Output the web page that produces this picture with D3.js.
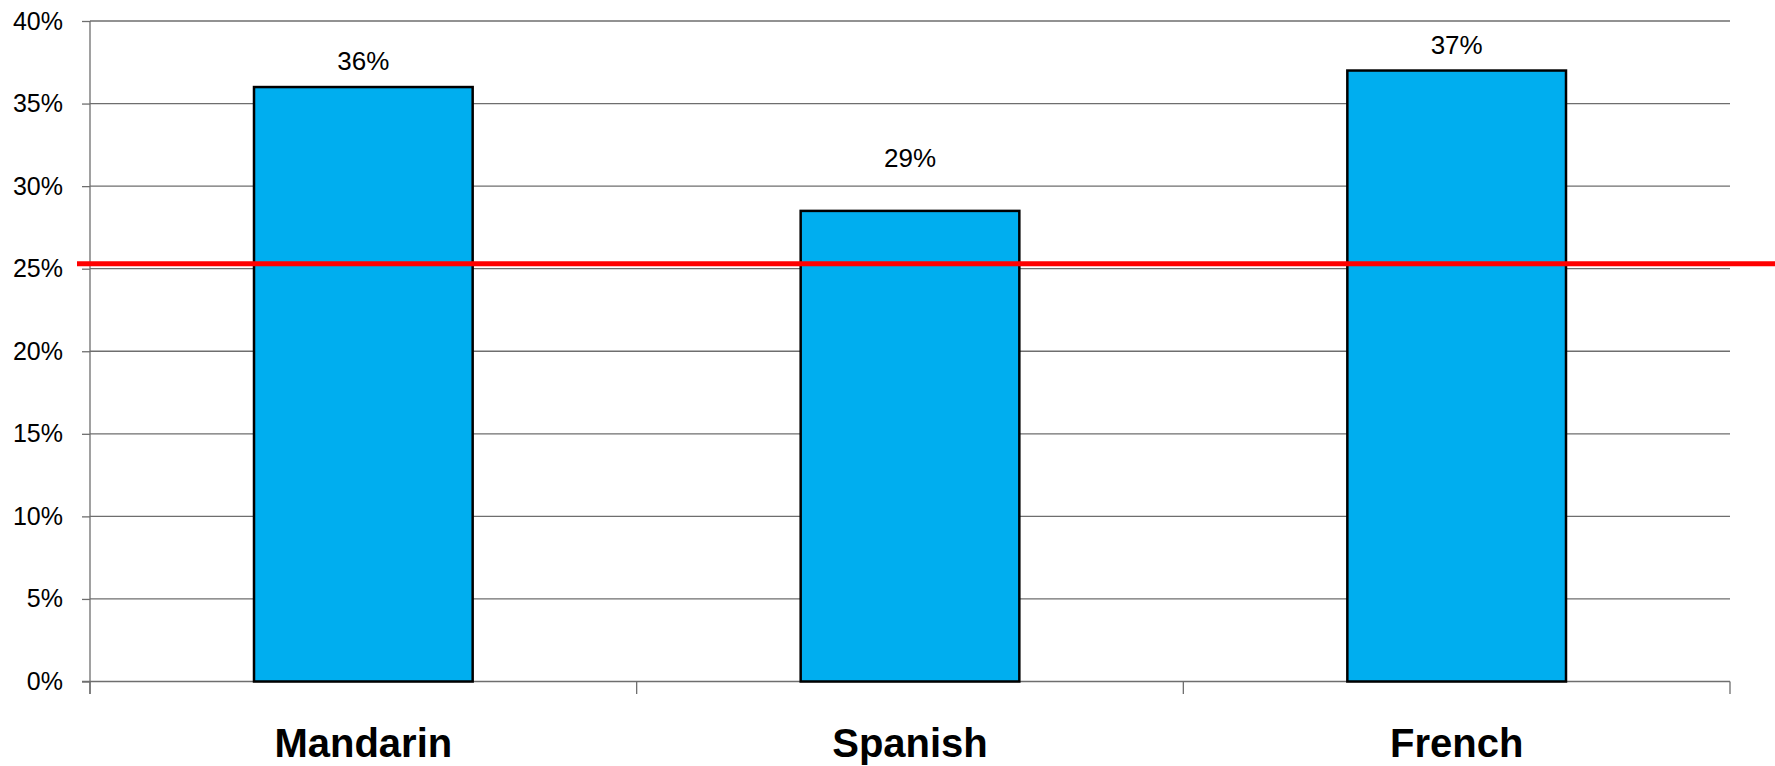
<!DOCTYPE html>
<html><head><meta charset="utf-8">
<script src="https://cdn.jsdelivr.net/npm/d3@7"></script>
<style>body{margin:0;background:#fff;}svg{display:block;}</style>
</head><body>
<svg id="chart" width="1775" height="766"></svg>
<script>
const categories = ["Mandarin", "Spanish", "French"];
const values = [36, 28.5, 37];
const valueLabels = ["36%", "29%", "37%"];
const yTicks = [0, 5, 10, 15, 20, 25, 30, 35, 40];
const referenceValue = 25.3;

const svg = d3.select("#chart");
const mLeft = 90, mRight = 1730, mTop = 21, mBottom = 681.5;
const font = "'Liberation Sans', Arial, sans-serif";
const labelGap = [17, 44, 17];

const x = d3.scaleBand().domain(categories).range([mLeft, mRight]).paddingInner(0).paddingOuter(0);
const y = d3.scaleLinear().domain([0, 40]).range([mBottom, mTop]);
const barW = x.bandwidth() * 0.4;

// gridlines
svg.append("g").selectAll("line").data(yTicks.filter(d => d > 0)).join("line")
  .attr("x1", mLeft).attr("x2", mRight)
  .attr("y1", d => y(d)).attr("y2", d => y(d))
  .attr("stroke", "#6e6e6e").attr("stroke-width", 1.3);

// y axis
const yAxis = d3.axisLeft(y).tickValues(yTicks).tickFormat(d => d + "%").tickSize(8).tickPadding(19);
const gy = svg.append("g").attr("transform", `translate(${mLeft},0)`).call(yAxis);
gy.select(".domain").remove();
gy.selectAll(".tick line").attr("stroke", "#6e6e6e").attr("stroke-width", 1.3);
gy.selectAll(".tick text").attr("font-family", font).attr("font-size", 25).attr("fill", "#000");
svg.append("line").attr("x1", mLeft).attr("x2", mLeft).attr("y1", mTop).attr("y2", mBottom + 12.5)
  .attr("stroke", "#6e6e6e").attr("stroke-width", 1.3);

// x axis
svg.append("line").attr("x1", mLeft - 8).attr("x2", mRight).attr("y1", mBottom).attr("y2", mBottom)
  .attr("stroke", "#6e6e6e").attr("stroke-width", 1.3);
const bounds = categories.map(c => x(c)).concat([mRight]);
svg.append("g").selectAll("line").data(bounds).join("line")
  .attr("x1", d => d).attr("x2", d => d).attr("y1", mBottom).attr("y2", mBottom + 12.5)
  .attr("stroke", "#6e6e6e").attr("stroke-width", 1.3);

// bars
svg.append("g").selectAll("rect").data(categories).join("rect")
  .attr("x", d => x(d) + (x.bandwidth() - barW) / 2)
  .attr("y", (d, i) => y(values[i]))
  .attr("width", barW)
  .attr("height", (d, i) => y(0) - y(values[i]))
  .attr("fill", "#00AEEF").attr("stroke", "#000").attr("stroke-width", 2.5);

// value labels
svg.append("g").selectAll("text").data(categories).join("text")
  .attr("x", d => x(d) + x.bandwidth() / 2)
  .attr("y", (d, i) => y(values[i]) - labelGap[i])
  .attr("text-anchor", "middle").attr("font-family", font).attr("font-size", 26).attr("fill", "#000")
  .text((d, i) => valueLabels[i]);

// category labels
svg.append("g").selectAll("text").data(categories).join("text")
  .attr("x", d => x(d) + x.bandwidth() / 2)
  .attr("y", 757)
  .attr("text-anchor", "middle").attr("font-family", font).attr("font-size", 40)
  .attr("font-weight", "bold").attr("fill", "#000")
  .text(d => d);

// reference line
svg.append("line").attr("x1", 77).attr("x2", 1775)
  .attr("y1", y(referenceValue)).attr("y2", y(referenceValue))
  .attr("stroke", "#FF0000").attr("stroke-width", 5);
</script>
</body></html>
